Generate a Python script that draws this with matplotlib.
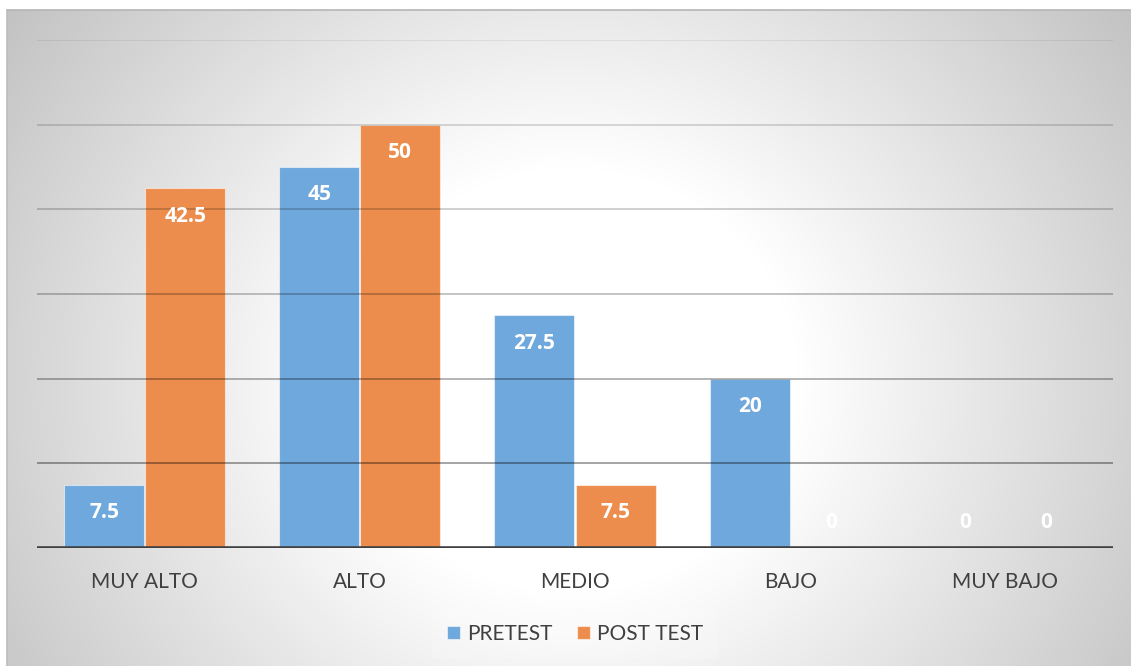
import numpy as np
import matplotlib
matplotlib.use("Agg")
import matplotlib.pyplot as plt
from matplotlib.lines import Line2D

categories = ["MUY ALTO", "ALTO", "MEDIO", "BAJO", "MUY BAJO"]
pretest = [7.5, 45, 27.5, 20, 0]
posttest = [42.5, 50, 7.5, 0, 0]
series_names = ["PRETEST", "POST TEST"]
y_ticks = [0, 10, 20, 30, 40, 50, 60]

W, H = 1131, 666
DPI = 100
BLUE = "#6FA8DC"
ORANGE = "#ED8D4D"
TEXT = "#404040"
FONT = "Lato"
BOLD_FONT = "Open Sans"

fig = plt.figure(figsize=(W / DPI, H / DPI), dpi=DPI)
fig.patch.set_facecolor("white")

# ---- background panel with radial gradient ----
fx0, fy_top = 7, 10
bg = fig.add_axes([fx0 / W, 0, 1 - fx0 / W, (H - fy_top) / H])
bg.set_axis_off()
gw, gh = W - fx0, H - fy_top
xx, yy = np.meshgrid(np.arange(gw) + fx0, np.arange(gh) + fy_top)
cx, cy, rx, ry = 570, 380, 600, 560
d = np.sqrt(((xx - cx) / rx) ** 2 + ((yy - cy) / ry) ** 2)
f = np.clip((d - 0.38) / 0.8, 0, 1)
val = (255 - 63 * f) / 255.0
img = np.dstack([val, val, val])
bg.imshow(img, aspect="auto", extent=[0, 1, 0, 1], origin="upper")
bg.set_xlim(0, 1)
bg.set_ylim(0, 1)
# frame edges
fig.add_artist(Line2D([fx0 / W, 1], [1 - fy_top / H, 1 - fy_top / H],
                      color="#b5b5b5", lw=1.2, transform=fig.transFigure))
fig.add_artist(Line2D([fx0 / W, fx0 / W], [0, 1 - fy_top / H],
                      color="#bdbdbd", lw=1.2, transform=fig.transFigure))

# ---- main plot ----
left, right = 37 / W, 1113 / W
bottom, top = (H - 548) / H, (H - 40) / H
ax = fig.add_axes([left, bottom, right - left, top - bottom])
ax.set_facecolor("none")
ax.patch.set_alpha(0)

x = np.arange(len(categories))
width = 80 / 215
off = 40.5 / 215
b1 = ax.bar(x - off, pretest, width, color=BLUE, edgecolor=(1, 1, 1, 0.55),
            linewidth=0.8, zorder=2, label=series_names[0])
b2 = ax.bar(x + off, posttest, width, color=ORANGE, edgecolor=(1, 1, 1, 0.55),
            linewidth=0.8, zorder=2, label=series_names[1])

ax.set_xlim(-0.5, len(categories) - 0.5)
ax.set_ylim(y_ticks[0], y_ticks[-1])
ax.set_yticks(y_ticks)
ax.tick_params(axis="y", left=False, labelleft=False)

# gridlines (semi-transparent, drawn over bars)
grid_alpha = {10: 0.42, 20: 0.34, 30: 0.27, 40: 0.22, 50: 0.17, 60: 0.08}
for t in y_ticks[1:]:
    ax.axhline(t, color="black", alpha=grid_alpha[t], lw=1.2, zorder=3)
ax.axhline(0, color="#404040", lw=3.3, zorder=4)

for s in ax.spines.values():
    s.set_visible(False)

ax.set_xticks(x)
ax.set_xticklabels(categories, fontsize=15, color=TEXT, fontfamily=FONT)
ax.tick_params(axis="x", length=0, pad=17)


def fmt(v):
    return f"{v:g}"


px = 72 / DPI
for bars, vals in ((b1, pretest), (b2, posttest)):
    for rect, v in zip(bars, vals):
        xc = rect.get_x() + rect.get_width() / 2
        dy = -28 * px if v > 0 else 25 * px
        ax.annotate(fmt(v), xy=(xc, v), xytext=(0, dy), textcoords="offset points",
                    ha="center", va="center", color="white", fontsize=15,
                    fontweight="bold", fontfamily=BOLD_FONT, zorder=5)

leg = fig.legend(handles=[b1, b2], labels=series_names, loc="center",
                 bbox_to_anchor=(575 / W, 1 - 634 / H), ncol=2,
                 frameon=True, framealpha=0.18, prop={"family": FONT, "size": 15},
                 handlelength=0.62, handleheight=0.62, handletextpad=0.35,
                 columnspacing=1.15, borderpad=0.7)
leg.get_frame().set_facecolor("white")
leg.get_frame().set_edgecolor("none")
leg.get_frame().set_boxstyle("square", pad=0)
for t in leg.get_texts():
    t.set_color(TEXT)

fig.savefig("out.png", dpi=DPI, facecolor=fig.get_facecolor())
